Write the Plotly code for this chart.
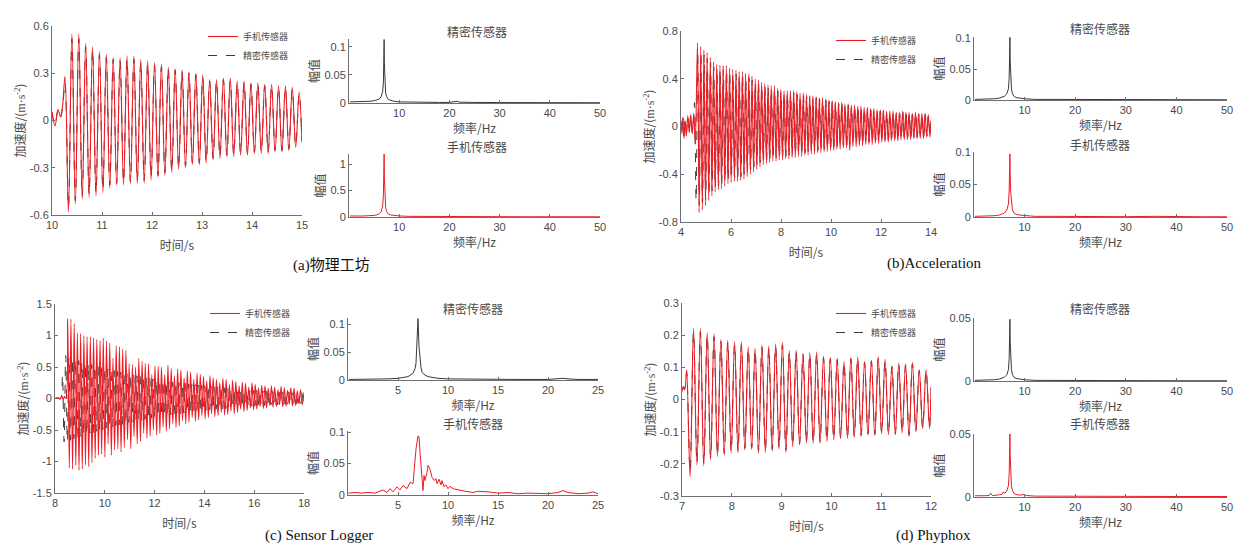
import plotly.graph_objects as go

W, H = 1253, 547
OX, OY = 8, 8  # page body margin of the written html page

# ---------------- time-domain data (extrema) ----------------
# (a) 物理工坊
a_red_pre_t = [10.0, 10.06, 10.12, 10.17, 10.21]
a_red_pre_v = [0.056, -0.035, 0.07, 0.025, 0.09]
a_red_t0, a_red_f = 10.26, 7.26
a_red_peaks = [0.28, 0.55, 0.55, 0.49, 0.47, 0.44, 0.42, 0.40, 0.40, 0.41, 0.41, 0.39, 0.38, 0.37, 0.36,
               0.34, 0.33, 0.32, 0.31, 0.30, 0.29, 0.26, 0.26, 0.27, 0.27, 0.25, 0.25, 0.24, 0.24, 0.23,
               0.23, 0.22, 0.22, 0.21, 0.18]
a_red_troughs = [-0.58, -0.53, -0.50, -0.49, -0.48, -0.46, -0.43, -0.41, -0.41, -0.40, -0.40, -0.40, -0.38,
                 -0.36, -0.35, -0.33, -0.31, -0.30, -0.28, -0.28, -0.27, -0.25, -0.24, -0.23, -0.23, -0.22,
                 -0.22, -0.21, -0.21, -0.21, -0.20, -0.20, -0.19, -0.17]
a_red_end = (15.0, -0.14)
a_blk_pre_t = [10.0, 10.06, 10.12, 10.17, 10.21]
a_blk_pre_v = [0.05, -0.03, 0.065, 0.02, 0.08]
a_blk_t0, a_blk_f = 10.26, 7.26
a_blk_peaks = [0.24, 0.52, 0.52, 0.47, 0.45, 0.42, 0.40, 0.39, 0.38, 0.39, 0.39, 0.37, 0.36, 0.35, 0.34,
               0.33, 0.32, 0.31, 0.30, 0.29, 0.27, 0.25, 0.25, 0.26, 0.25, 0.24, 0.24, 0.23, 0.23, 0.22,
               0.22, 0.21, 0.21, 0.20, 0.17]
a_blk_troughs = [-0.55, -0.51, -0.48, -0.47, -0.46, -0.44, -0.41, -0.40, -0.39, -0.39, -0.38, -0.38, -0.36,
                 -0.35, -0.33, -0.32, -0.30, -0.29, -0.27, -0.27, -0.26, -0.24, -0.23, -0.22, -0.22, -0.21,
                 -0.21, -0.20, -0.20, -0.20, -0.19, -0.19, -0.18, -0.16]
a_blk_end = (15.0, -0.13)

# (b) Acceleration
b_red_pre_t = [4.0, 4.04, 4.08, 4.12, 4.16, 4.21, 4.27, 4.33, 4.39, 4.45, 4.51, 4.57]
b_red_pre_v = [0.05, -0.06, 0.08, -0.10, 0.05, -0.08, 0.09, -0.05, 0.10, -0.06, 0.11, -0.15]
b_red_t0, b_red_f = 4.66, 7.8
b_red_peaks = [0.70, 0.67, 0.64, 0.62, 0.58, 0.54, 0.52, 0.515, 0.51, 0.51, 0.49, 0.48, 0.47, 0.46, 0.46,
               0.445, 0.44, 0.42, 0.40, 0.39, 0.37, 0.36, 0.35, 0.34, 0.34, 0.32, 0.31, 0.30, 0.30, 0.30,
               0.30, 0.29, 0.28, 0.28, 0.27, 0.26, 0.26, 0.25, 0.24, 0.24, 0.23, 0.22, 0.22, 0.21, 0.20,
               0.20, 0.19, 0.19, 0.18, 0.18, 0.17, 0.17, 0.16, 0.16, 0.15, 0.15, 0.14, 0.14, 0.14, 0.13,
               0.13, 0.13, 0.12, 0.12, 0.13, 0.12, 0.12, 0.11, 0.12, 0.11, 0.11, 0.11, 0.10]
b_red_troughs = [-0.72, -0.70, -0.66, -0.62, -0.58, -0.55, -0.53, -0.52, -0.50, -0.48, -0.47, -0.46, -0.46,
                 -0.45, -0.44, -0.42, -0.40, -0.38, -0.36, -0.34, -0.32, -0.31, -0.30, -0.29, -0.29, -0.28,
                 -0.28, -0.27, -0.27, -0.26, -0.26, -0.25, -0.25, -0.24, -0.24, -0.23, -0.23, -0.22, -0.22,
                 -0.21, -0.21, -0.20, -0.20, -0.19, -0.19, -0.18, -0.18, -0.20, -0.17, -0.17, -0.16, -0.16,
                 -0.15, -0.15, -0.15, -0.14, -0.14, -0.13, -0.13, -0.13, -0.12, -0.12, -0.12, -0.11, -0.11,
                 -0.11, -0.11, -0.10, -0.10, -0.10, -0.10, -0.09, -0.09]
b_red_end = (14.0, 0.05)
b_blk_pre_t = [4.0, 4.04, 4.08, 4.12, 4.16, 4.21, 4.27, 4.33, 4.39, 4.45, 4.50]
b_blk_pre_v = [0.04, -0.05, 0.07, -0.08, 0.04, -0.07, 0.08, -0.04, 0.09, -0.05, 0.05]
b_blk_t0, b_blk_f = 4.54, 7.8
b_blk_peaks = [0.20, 0.62, 0.62, 0.60, 0.57, 0.54, 0.50, 0.49, 0.48, 0.48, 0.47, 0.45, 0.44, 0.44, 0.43,
               0.43, 0.41, 0.41, 0.39, 0.37, 0.36, 0.35, 0.33, 0.32, 0.32, 0.31, 0.30, 0.29, 0.28, 0.28,
               0.28, 0.28, 0.27, 0.26, 0.26, 0.25, 0.25, 0.24, 0.24, 0.23, 0.22, 0.22, 0.21, 0.21, 0.20,
               0.19, 0.19, 0.18, 0.18, 0.17, 0.17, 0.16, 0.16, 0.15, 0.15, 0.14, 0.14, 0.13, 0.13, 0.13,
               0.12, 0.12, 0.12, 0.11, 0.11, 0.12, 0.11, 0.11, 0.10, 0.11, 0.10, 0.10, 0.10, 0.09]
b_blk_troughs = [-0.62, -0.66, -0.64, -0.61, -0.57, -0.54, -0.51, -0.50, -0.48, -0.46, -0.45, -0.44, -0.43,
                 -0.43, -0.42, -0.40, -0.38, -0.36, -0.34, -0.32, -0.30, -0.29, -0.28, -0.27, -0.27, -0.26,
                 -0.26, -0.25, -0.25, -0.24, -0.24, -0.23, -0.23, -0.22, -0.22, -0.21, -0.21, -0.20, -0.20,
                 -0.19, -0.19, -0.18, -0.18, -0.17, -0.17, -0.16, -0.16, -0.17, -0.15, -0.15, -0.14, -0.14,
                 -0.14, -0.13, -0.13, -0.12, -0.12, -0.12, -0.11, -0.11, -0.11, -0.10, -0.10, -0.10, -0.10,
                 -0.10, -0.09, -0.09, -0.09, -0.09, -0.08, -0.08, -0.08, -0.08]
b_blk_end = (14.0, 0.04)

# (c) Sensor Logger
c_red_pre_t = [8.0, 8.1, 8.2, 8.28, 8.33, 8.38, 8.44]
c_red_pre_v = [0.0, 0.01, -0.01, 0.04, -0.02, 0.03, 0.0]
c_red_t0, c_red_f = 8.51, 7.7
c_red_peaks = [1.27, 1.26, 1.19, 1.04, 1.03, 0.99, 0.98, 0.98, 0.96, 0.94, 0.92, 0.96, 0.91, 0.88, 0.64,
               0.84, 0.82, 0.78, 0.76, 0.55, 0.54, 0.50, 0.64, 0.59, 0.56, 0.55, 0.38, 0.52, 0.51, 0.50,
               0.38, 0.53, 0.48, 0.36, 0.47, 0.45, 0.33, 0.44, 0.42, 0.30, 0.40, 0.38, 0.35, 0.28, 0.36,
               0.33, 0.30, 0.25, 0.32, 0.30, 0.22, 0.29, 0.27, 0.20, 0.26, 0.24, 0.18, 0.25, 0.22, 0.17,
               0.21, 0.20, 0.16, 0.20, 0.18, 0.14, 0.19, 0.17, 0.13, 0.17, 0.16, 0.12, 0.14]
c_red_troughs = [-1.10, -1.12, -1.06, -1.14, -1.12, -1.05, -1.08, -1.02, -0.95, -0.90, -0.88, -0.93, -0.72,
                 -0.90, -0.82, -0.80, -0.85, -0.78, -0.65, -0.80, -0.60, -0.72, -0.68, -0.55, -0.63, -0.60,
                 -0.50, -0.58, -0.55, -0.45, -0.52, -0.48, -0.40, -0.46, -0.44, -0.35, -0.40, -0.38, -0.30,
                 -0.36, -0.34, -0.27, -0.32, -0.30, -0.24, -0.29, -0.27, -0.22, -0.26, -0.25, -0.20, -0.24,
                 -0.22, -0.17, -0.21, -0.19, -0.15, -0.18, -0.17, -0.13, -0.16, -0.15, -0.11, -0.14, -0.13,
                 -0.10, -0.13, -0.12, -0.09, -0.12, -0.11, -0.08, -0.10]
c_red_end = (18.0, 0.10)
c_blk_pre_t = [8.0, 8.1, 8.2, 8.25]
c_blk_pre_v = [0.0, 0.01, 0.0, 0.02]
c_blk_t0, c_blk_f = 8.30, 7.7
c_blk_peaks = [0.37, 0.68, 0.66, 0.64, 0.62, 0.60, 0.58, 0.57, 0.55, 0.54, 0.52, 0.51, 0.49, 0.48, 0.47,
               0.45, 0.44, 0.43, 0.42, 0.40, 0.39, 0.38, 0.37, 0.36, 0.35, 0.34, 0.33, 0.32, 0.31, 0.30,
               0.29, 0.29, 0.28, 0.27, 0.26, 0.26, 0.25, 0.24, 0.24, 0.23, 0.22, 0.22, 0.21, 0.21, 0.20,
               0.19, 0.19, 0.18, 0.18, 0.17, 0.17, 0.16, 0.16, 0.15, 0.15, 0.14, 0.14, 0.14, 0.13, 0.13,
               0.13, 0.12, 0.12, 0.12, 0.11, 0.11, 0.11, 0.10, 0.10, 0.10, 0.10, 0.09, 0.09, 0.09, 0.09]
c_blk_troughs = [-0.69, -0.68, -0.66, -0.64, -0.62, -0.60, -0.58, -0.57, -0.55, -0.54, -0.52, -0.50, -0.49,
                 -0.47, -0.46, -0.45, -0.43, -0.42, -0.41, -0.40, -0.38, -0.37, -0.36, -0.35, -0.34, -0.33,
                 -0.32, -0.31, -0.30, -0.29, -0.28, -0.28, -0.27, -0.26, -0.25, -0.25, -0.24, -0.23, -0.23,
                 -0.22, -0.21, -0.21, -0.20, -0.20, -0.19, -0.18, -0.18, -0.17, -0.17, -0.16, -0.16, -0.15,
                 -0.15, -0.14, -0.14, -0.13, -0.13, -0.13, -0.12, -0.12, -0.12, -0.11, -0.11, -0.11, -0.10,
                 -0.10, -0.10, -0.09, -0.09, -0.09, -0.09, -0.08, -0.08, -0.08, -0.08]
c_blk_end = (18.0, 0.05)

# (d) Phyphox
d_red_pre_t = [7.0, 7.025, 7.05, 7.07]
d_red_pre_v = [0.025, 0.04, 0.03, 0.045]
d_red_t0, d_red_f = 7.094, 7.28
d_red_peaks = [0.092, 0.221, 0.221, 0.208, 0.205, 0.187, 0.185, 0.18, 0.179, 0.164, 0.16, 0.17, 0.167, 0.173,
               0.178, 0.152, 0.154, 0.144, 0.146, 0.148, 0.135, 0.131, 0.128, 0.118, 0.131, 0.133, 0.118,
               0.123, 0.133, 0.125, 0.104, 0.113, 0.11, 0.115, 0.092, 0.092]
d_red_troughs = [-0.24, -0.204, -0.207, -0.188, -0.178, -0.173, -0.167, -0.166, -0.157, -0.156, -0.167,
                 -0.165, -0.16, -0.155, -0.165, -0.147, -0.142, -0.136, -0.137, -0.136, -0.131, -0.126,
                 -0.122, -0.121, -0.118, -0.115, -0.11, -0.112, -0.107, -0.11, -0.11, -0.104, -0.115,
                 -0.1, -0.09, -0.09]
d_red_end = (12.0, 0.04)
d_blk_pre_t = [7.0, 7.025, 7.05, 7.07]
d_blk_pre_v = [0.028, 0.038, 0.032, 0.043]
d_blk_t0, d_blk_f = 7.094, 7.28
d_blk_peaks = [0.085, 0.21, 0.21, 0.2, 0.195, 0.18, 0.178, 0.172, 0.17, 0.158, 0.155, 0.162, 0.16, 0.165,
               0.17, 0.147, 0.148, 0.14, 0.14, 0.142, 0.13, 0.127, 0.124, 0.115, 0.126, 0.128, 0.115, 0.119,
               0.127, 0.12, 0.102, 0.109, 0.107, 0.111, 0.09, 0.09]
d_blk_troughs = [-0.225, -0.198, -0.2, -0.182, -0.172, -0.168, -0.162, -0.16, -0.152, -0.151, -0.16, -0.159,
                 -0.155, -0.15, -0.158, -0.142, -0.138, -0.132, -0.133, -0.132, -0.127, -0.122, -0.119,
                 -0.117, -0.114, -0.111, -0.107, -0.108, -0.104, -0.106, -0.106, -0.101, -0.11, -0.097,
                 -0.088, -0.088]
d_blk_end = (12.0, 0.035)

# ---------------- spectra (amplitude) ----------------
a_blk_fq = [0.2, 1, 2, 3, 4, 5, 5.5, 6, 6.4, 6.7, 6.85, 6.95, 7.0, 7.05, 7.15, 7.3, 7.5, 7.8, 8.2, 9, 10, 12,
            14, 16, 18, 20, 21, 21.5, 22, 23, 25, 30, 35, 36, 37, 40, 45, 50]
a_blk_amp = [0.002, 0.002, 0.002, 0.003, 0.003, 0.004, 0.005, 0.007, 0.011, 0.02, 0.035, 0.07, 0.113, 0.07,
             0.035, 0.018, 0.011, 0.007, 0.005, 0.003, 0.002, 0.0015, 0.002, 0.001, 0.001, 0.001, 0.002,
             0.003, 0.0015, 0.001, 0.001, 0.0008, 0.0008, 0.0015, 0.0008, 0.0006, 0.0006, 0.0005]
a_red_fq = a_blk_fq
a_red_amp = [0.02, 0.015, 0.018, 0.02, 0.022, 0.03, 0.04, 0.06, 0.1, 0.2, 0.4, 0.8, 1.19, 0.75, 0.35, 0.18, 0.1,
             0.06, 0.04, 0.025, 0.02, 0.012, 0.012, 0.01, 0.008, 0.01, 0.015, 0.02, 0.01, 0.008, 0.007,
             0.006, 0.005, 0.008, 0.005, 0.005, 0.004, 0.004]

b_blk_fq = [0.2, 1, 2, 3, 4, 5, 5.5, 6, 6.5, 6.8, 6.95, 7.05, 7.1, 7.15, 7.25, 7.4, 7.6, 7.9, 8.3, 9, 10,
            12, 15, 18, 20, 21.5, 23, 25, 30, 36, 40, 45, 50]
b_blk_amp = [0.001, 0.001, 0.0015, 0.002, 0.002, 0.003, 0.004, 0.006, 0.01, 0.018, 0.035, 0.065, 0.101,
             0.065, 0.035, 0.018, 0.01, 0.006, 0.004, 0.003, 0.002, 0.001, 0.001, 0.0008, 0.0008, 0.0015,
             0.0008, 0.0006, 0.0005, 0.001, 0.0005, 0.0004, 0.0004]
b_red_fq = b_blk_fq
b_red_amp = [0.001, 0.001, 0.0015, 0.002, 0.002, 0.003, 0.004, 0.006, 0.011, 0.02, 0.04, 0.07, 0.097, 0.068,
             0.038, 0.02, 0.011, 0.006, 0.004, 0.003, 0.002, 0.001, 0.001, 0.0008, 0.0008, 0.0015, 0.0008,
             0.0006, 0.0005, 0.001, 0.0005, 0.0004, 0.0004]

c_blk_fq = [0.1, 1, 2, 3, 4, 5, 5.5, 6, 6.5, 6.7, 6.8, 6.9, 7.0, 7.1, 7.2, 7.3, 7.4, 7.6, 8, 8.5, 9, 10, 12,
            14, 15, 17, 20, 21, 21.5, 22, 23, 25]
c_blk_amp = [0.001, 0.001, 0.001, 0.0015, 0.002, 0.003, 0.004, 0.006, 0.012, 0.02, 0.03, 0.06, 0.11, 0.06,
             0.03, 0.022, 0.014, 0.01, 0.006, 0.004, 0.003, 0.002, 0.0015, 0.001, 0.0012, 0.001, 0.001,
             0.002, 0.003, 0.002, 0.001, 0.001]
c_red_fq = [0.03, 0.7, 1.4, 2.0, 2.7, 3.0, 3.5, 3.9, 4.2, 4.5, 4.9, 5.2, 5.5, 5.9, 6.2, 6.5, 6.6, 6.8, 7.0,
            7.1, 7.2, 7.4, 7.5, 7.6, 7.7, 7.9, 8.0, 8.2, 8.4, 8.6, 8.8, 8.9, 9.1, 9.3, 9.4, 9.6, 9.8, 10.0,
            10.2, 10.5, 11.0, 11.7, 12.5, 13, 14, 15, 16, 17, 18, 19, 20, 21, 21.5, 22, 23, 24, 24.5, 25]
c_red_amp = [0.003, 0.004, 0.003, 0.004, 0.003, 0.005, 0.008, 0.004, 0.01, 0.005, 0.013, 0.008, 0.015, 0.01,
             0.02, 0.018, 0.036, 0.073, 0.094, 0.092, 0.068, 0.02, 0.007, 0.031, 0.023, 0.036, 0.047, 0.041,
             0.028, 0.023, 0.026, 0.018, 0.025, 0.016, 0.023, 0.013, 0.016, 0.01, 0.014, 0.01, 0.008, 0.006,
             0.004, 0.006, 0.005, 0.003, 0.004, 0.002, 0.003, 0.002, 0.002, 0.004, 0.007, 0.004, 0.002,
             0.003, 0.005, 0.002]

d_blk_fq = [0.2, 1, 2, 3, 4, 5, 5.5, 6, 6.5, 6.8, 6.95, 7.05, 7.1, 7.15, 7.25, 7.4, 7.6, 7.9, 8.3, 9, 10,
            12, 15, 20, 25, 30, 40, 50]
d_blk_amp = [0.0005, 0.0005, 0.0007, 0.001, 0.001, 0.0015, 0.002, 0.003, 0.005, 0.009, 0.018, 0.032, 0.049,
             0.032, 0.017, 0.009, 0.005, 0.003, 0.002, 0.0015, 0.001, 0.0005, 0.0004, 0.0003, 0.0003,
             0.0003, 0.0002, 0.0002]
d_red_fq = [0.2, 1, 2, 3, 3.3, 3.6, 4, 5, 5.5, 5.8, 6.1, 6.5, 6.8, 6.95, 7.05, 7.1, 7.15, 7.25, 7.4, 7.6,
            7.9, 8.3, 9, 10, 10.3, 12, 15, 20, 25, 30, 40, 50]
d_red_amp = [0.001, 0.0008, 0.001, 0.0012, 0.003, 0.0012, 0.0012, 0.0018, 0.002, 0.004, 0.003, 0.005, 0.009,
             0.018, 0.033, 0.05, 0.033, 0.017, 0.009, 0.005, 0.003, 0.002, 0.0015, 0.002, 0.0012, 0.0007,
             0.0006, 0.0005, 0.0005, 0.0005, 0.0004, 0.0004]

# ---------------- tick labels ----------------
a_time_ticks = [10, 11, 12, 13, 14, 15]
a_acc_vals = [-0.6, -0.3, 0, 0.3, 0.6]
a_acc_text = ['-0.6', '-0.3', '0', '0.3', '0.6']
b_time_ticks = [4, 6, 8, 10, 12, 14]
b_acc_vals = [-0.8, -0.4, 0, 0.4, 0.8]
b_acc_text = ['-0.8', '-0.4', '0', '0.4', '0.8']
c_time_ticks = [8, 10, 12, 14, 16, 18]
c_acc_vals = [-1.5, -1, -0.5, 0, 0.5, 1, 1.5]
c_acc_text = ['-1.5', '-1', '-0.5', '0', '0.5', '1', '1.5']
d_time_ticks = [7, 8, 9, 10, 11, 12]
d_acc_vals = [-0.3, -0.2, -0.1, 0, 0.1, 0.2, 0.3]
d_acc_text = ['-0.3', '-0.2', '-0.1', '0', '0.1', '0.2', '0.3']
freq50_ticks = [10, 20, 30, 40, 50]
freq25_ticks = [5, 10, 15, 20, 25]

captions = ['(a)物理工坊', '(b)Acceleration', '(c) Sensor Logger', '(d) Phyphox']
name_phone = '手机传感器'
name_ref = '精密传感器'

RED = '#ee1c24'
BLK = '#3a3a3a'
AX = '#6f6f6f'
TXT = '#4a4a4a'
CJK = 'Noto Sans CJK SC'
NUM = 'Liberation Sans, Arial, sans-serif'
ACC_TITLE = '加速度/(<span style="font-family:Liberation Serif">m·s<sup>-2</sup></span>)'


def build(pre_t, pre_v, t0, f, peaks, troughs, end):
    ext = []
    for i in range(max(len(peaks), len(troughs))):
        if i < len(peaks):
            ext.append(peaks[i])
        if i < len(troughs):
            ext.append(troughs[i])
    half = 0.5 / f
    t = list(pre_t) + [t0 + k * half for k in range(len(ext))]
    v = list(pre_v) + ext
    if end is not None and end[0] > t[-1]:
        t.append(end[0])
        v.append(end[1])
    return t, v


def px(x):
    return (x - OX) / W


def py(y):
    return 1 - (y - OY) / H


def xd(a, b):
    return [px(a), px(b)]


def yd(top, bot):
    return [py(bot), py(top)]


fig = go.Figure()
layout = {}


def axis_common():
    return dict(showline=True, linecolor=AX, linewidth=1, ticks='inside', ticklen=3, tickcolor=AX,
                showgrid=False, zeroline=False, mirror=False, automargin=False,
                tickfont=dict(family=NUM, size=11, color=TXT))


def add_time(i, xdom, ydom, xr, yr, xt, yv, ytxt, red, blk, leg, legpos):
    xa = axis_common()
    xa.update(domain=xdom, range=xr, tickvals=xt, anchor=f'y{i}',
              title=dict(text='时间/s', font=dict(family=CJK, size=12, color=TXT), standoff=11))
    ya = axis_common()
    ya.update(domain=ydom, range=yr, tickvals=yv, ticktext=ytxt, anchor=f'x{i}',
              title=dict(text=ACC_TITLE, font=dict(family=CJK, size=12, color=TXT), standoff=1))
    layout['xaxis' if i == 1 else f'xaxis{i}'] = xa
    layout['yaxis' if i == 1 else f'yaxis{i}'] = ya
    xs = 'x' if i == 1 else f'x{i}'
    ys = 'y' if i == 1 else f'y{i}'
    t, v = build(*blk)
    fig.add_trace(go.Scatter(x=t, y=v, mode='lines', name=name_ref, xaxis=xs, yaxis=ys, legend=leg,
                             legendrank=2,
                             line=dict(color=BLK, width=1, dash='dash', shape='spline', smoothing=1)))
    t, v = build(*red)
    fig.add_trace(go.Scatter(x=t, y=v, mode='lines', name=name_phone, xaxis=xs, yaxis=ys, legend=leg,
                             legendrank=1,
                             line=dict(color=RED, width=1.1, shape='spline', smoothing=1)))
    layout[leg] = dict(x=px(legpos[0]), y=py(legpos[1]), xanchor='left', yanchor='top',
                       bgcolor='rgba(0,0,0,0)', borderwidth=0, itemwidth=30, tracegroupgap=0,
                       traceorder='normal',
                       font=dict(family=CJK, size=9, color=TXT))


def add_spec(i, xdom, ydom, xr, yr, xt, yv, fq, amp, color):
    xa = axis_common()
    xa.update(domain=xdom, range=xr, tickvals=xt, anchor=f'y{i}',
              title=dict(text='频率/Hz', font=dict(family=CJK, size=12, color=TXT), standoff=2))
    ya = axis_common()
    ya.update(domain=ydom, range=yr, tickvals=yv, anchor=f'x{i}',
              title=dict(text='幅值', font=dict(family=CJK, size=12, color=TXT), standoff=2))
    layout[f'xaxis{i}'] = xa
    layout[f'yaxis{i}'] = ya
    fig.add_trace(go.Scatter(x=fq, y=amp, mode='lines', showlegend=False, xaxis=f'x{i}', yaxis=f'y{i}',
                             line=dict(color=color, width=1)))


# (a)
add_time(1, xd(52, 302), yd(26, 215), [10, 15], [-0.6, 0.6], a_time_ticks, a_acc_vals, a_acc_text,
         (a_red_pre_t, a_red_pre_v, a_red_t0, a_red_f, a_red_peaks, a_red_troughs, a_red_end),
         (a_blk_pre_t, a_blk_pre_v, a_blk_t0, a_blk_f, a_blk_peaks, a_blk_troughs, a_blk_end),
         'legend', (203, 22))
add_spec(2, xd(349, 600), yd(39, 103), [0, 50], [0, 0.114], freq50_ticks, [0, 0.05, 0.1],
         a_blk_fq, a_blk_amp, BLK)
add_spec(3, xd(349, 600), yd(154, 217), [0, 50], [0, 1.19], freq50_ticks, [0, 0.5, 1],
         a_red_fq, a_red_amp, RED)
# (b)
add_time(4, xd(681, 931), yd(31, 222), [4, 14], [-0.8, 0.8], b_time_ticks, b_acc_vals, b_acc_text,
         (b_red_pre_t, b_red_pre_v, b_red_t0, b_red_f, b_red_peaks, b_red_troughs, b_red_end),
         (b_blk_pre_t, b_blk_pre_v, b_blk_t0, b_blk_f, b_blk_peaks, b_blk_troughs, b_blk_end),
         'legend2', (831, 26))
add_spec(5, xd(974, 1227), yd(37, 100), [0, 50], [0, 0.1016], freq50_ticks, [0, 0.05, 0.1],
         b_blk_fq, b_blk_amp, BLK)
add_spec(6, xd(974, 1227), yd(152, 217), [0, 50], [0, 0.1], freq50_ticks, [0, 0.05, 0.1],
         b_red_fq, b_red_amp, RED)
# (c)
add_time(7, xd(55, 304), yd(304, 493), [8, 18], [-1.5, 1.5], c_time_ticks, c_acc_vals, c_acc_text,
         (c_red_pre_t, c_red_pre_v, c_red_t0, c_red_f, c_red_peaks, c_red_troughs, c_red_end),
         (c_blk_pre_t, c_blk_pre_v, c_blk_t0, c_blk_f, c_blk_peaks, c_blk_troughs, c_blk_end),
         'legend3', (205, 299))
add_spec(8, xd(348, 598), yd(318, 380), [0, 25], [0, 0.111], freq25_ticks, [0, 0.05, 0.1],
         c_blk_fq, c_blk_amp, BLK)
add_spec(9, xd(348, 598), yd(431, 495), [0, 25], [0, 0.1016], freq25_ticks, [0, 0.05, 0.1],
         c_red_fq, c_red_amp, RED)
# (d)
add_time(10, xd(682, 931), yd(303, 496), [7, 12], [-0.3, 0.3], d_time_ticks, d_acc_vals, d_acc_text,
         (d_red_pre_t, d_red_pre_v, d_red_t0, d_red_f, d_red_peaks, d_red_troughs, d_red_end),
         (d_blk_pre_t, d_blk_pre_v, d_blk_t0, d_blk_f, d_blk_peaks, d_blk_troughs, d_blk_end),
         'legend4', (831, 299))
add_spec(11, xd(974, 1227), yd(318, 381), [0, 50], [0, 0.05], freq50_ticks, [0, 0.05],
         d_blk_fq, d_blk_amp, BLK)
add_spec(12, xd(974, 1227), yd(434, 497), [0, 50], [0, 0.05], freq50_ticks, [0, 0.05],
         d_red_fq, d_red_amp, RED)

annotations = []
for (x, y, txt) in [(477, 31, name_ref), (477, 146, name_phone), (1100, 28, name_ref), (1100, 144, name_phone),
                    (473, 308, name_ref), (473, 423, name_phone), (1100, 308, name_ref), (1100, 423, name_phone)]:
    annotations.append(dict(x=px(x), y=py(y), xref='paper', yref='paper', text=txt, showarrow=False,
                            xanchor='center', yanchor='middle',
                            font=dict(family=CJK, size=12, color=TXT)))
for (x, y), txt in zip([(331, 265), (934, 263), (319, 535), (933, 535)], captions):
    annotations.append(dict(x=px(x), y=py(y), xref='paper', yref='paper', text=txt, showarrow=False,
                            xanchor='center', yanchor='middle',
                            font=dict(family='Liberation Serif, Noto Sans CJK SC, serif', size=15,
                                      color='#111')))

layout.update(width=W, height=H, margin=dict(l=0, r=0, t=0, b=0), paper_bgcolor='white',
              plot_bgcolor='white', showlegend=True, annotations=annotations)
fig.update_layout(**layout)
fig.write_html('out.html')
